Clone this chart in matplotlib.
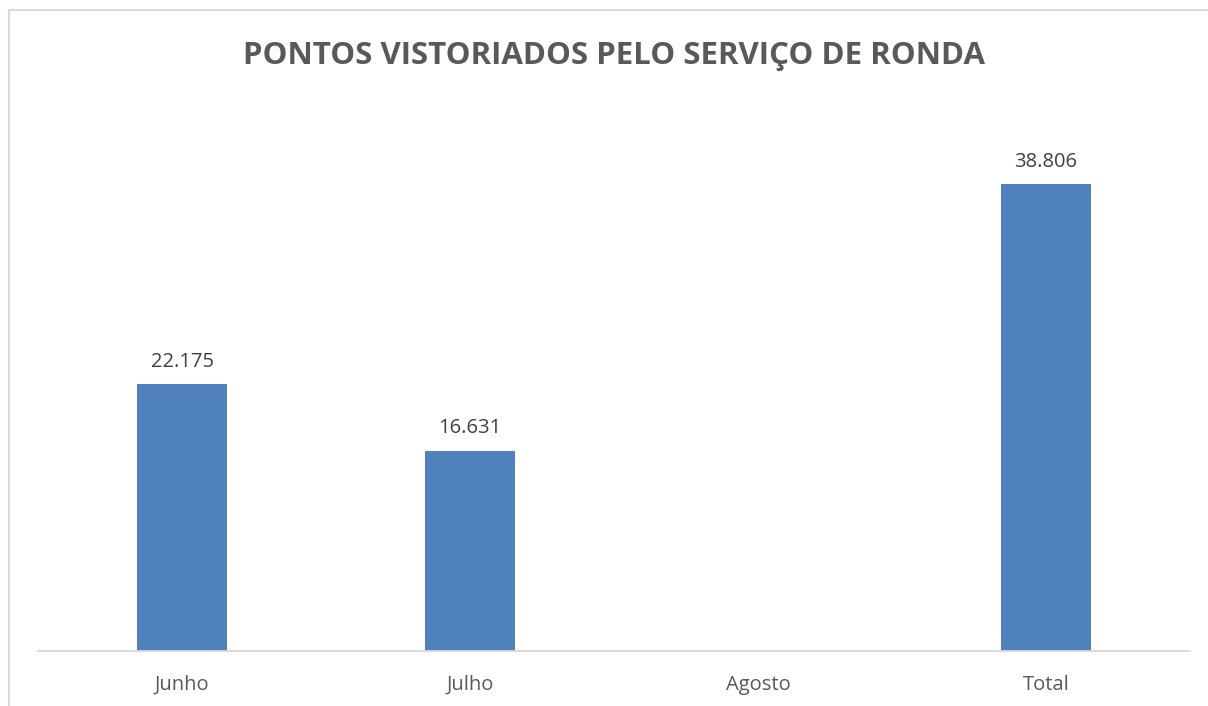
import matplotlib.pyplot as plt
from matplotlib.patches import Rectangle

categories = ["Junho", "Julho", "Agosto", "Total"]
values = [22175, 16631, None, 38806]

plt.rcParams['font.family'] = ['Open Sans', 'DejaVu Sans']

W, H = 1208, 706
fig = plt.figure(figsize=(W / 100, H / 100), dpi=100)
ax = fig.add_axes([38 / W, 55 / H, 1152 / W, (651 - 109.5) / H])

xs = list(range(len(categories)))
heights = [v if v is not None else 0 for v in values]
ax.bar(xs, heights, width=0.3125, color="#4F81BD")

for x, v in zip(xs, values):
    if v is None:
        continue
    lbl = f"{v:,}".replace(",", ".")
    ax.annotate(lbl, (x, v), xytext=(0, 9), textcoords="offset points",
                ha="center", va="bottom", fontsize=14.5, color="#404040")

ax.set_xlim(-0.5, len(categories) - 0.5)
ax.set_ylim(0, 45000)
ax.set_xticks(xs)
ax.set_xticklabels(categories, fontsize=14.5, color="#595959")
ax.tick_params(axis="x", length=0, pad=17)
ax.set_yticks([])
for s in ["top", "right", "left"]:
    ax.spines[s].set_visible(False)
ax.spines["bottom"].set_color("#D9D9D9")
ax.spines["bottom"].set_linewidth(1.3)

fig.text(614 / W, 1 - 56 / H, "PONTOS VISTORIADOS PELO SERVIÇO DE RONDA",
         ha="center", va="center", fontsize=22.5, fontweight="bold", color="#595959")

fig.patches.append(Rectangle((9 / W, -0.1), 1.2, 1.1 - 10 / H, transform=fig.transFigure,
                             fill=False, edgecolor="#D9D9D9", linewidth=1.5))

fig.savefig("out.png", dpi=100)
